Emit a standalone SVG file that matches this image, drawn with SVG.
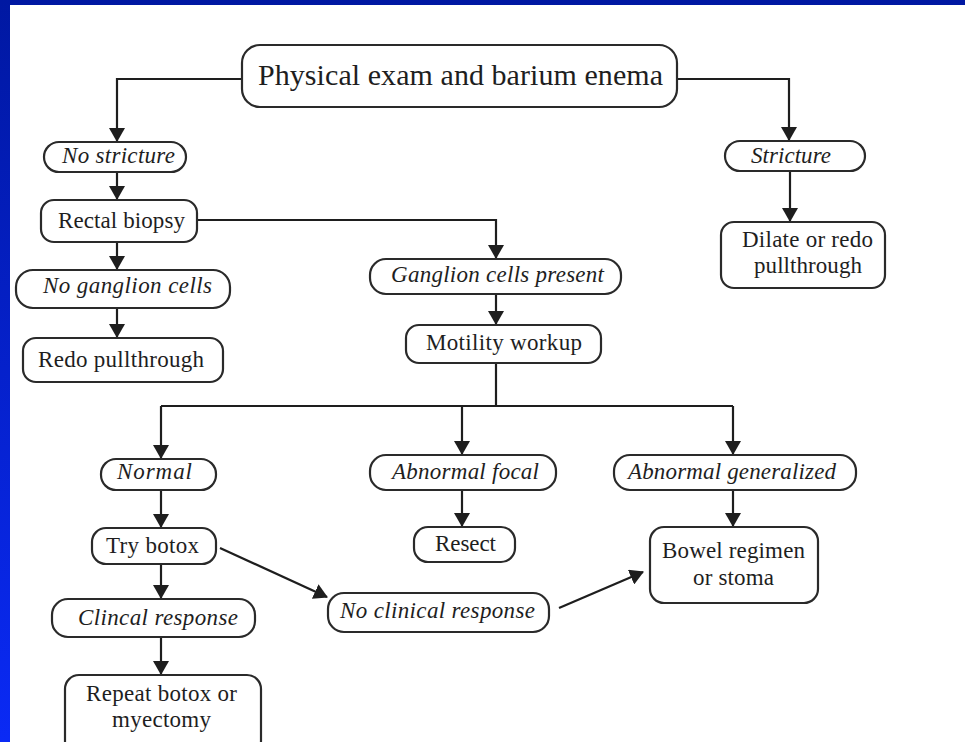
<svg xmlns="http://www.w3.org/2000/svg" width="965" height="742" viewBox="0 0 965 742">
<defs>
<linearGradient id="bg" x1="0" y1="0" x2="0" y2="1">
<stop offset="0" stop-color="#0018A2"/>
<stop offset="1" stop-color="#0A2AF5"/>
</linearGradient>
<marker id="ah" markerUnits="userSpaceOnUse" viewBox="0 0 14 16" refX="13" refY="8" markerWidth="14" markerHeight="16" orient="auto">
<path d="M0,0 L14,8 L0,16 z" fill="#1e1e1e"/>
</marker>
<style>
.box{fill:#fff;stroke:#2a2a2a;stroke-width:2.2}
.t{font-family:"Liberation Serif","Times New Roman",serif;font-size:23px;fill:#1e1e1e;text-anchor:middle}
.i{font-style:italic}
.big{font-size:30px}
.c{fill:none;stroke:#1e1e1e;stroke-width:2.2}
.a{marker-end:url(#ah)}
</style>
</defs>
<rect width="965" height="742" fill="url(#bg)"/>
<rect x="10" y="5" width="955" height="737" fill="#fff"/>

<g id="connectors">
<path class="c a" d="M242,79 H117 V141"/>
<path class="c a" d="M677,79 H789 V140"/>
<path class="c a" d="M117,172 V199"/>
<path class="c a" d="M790,171 V221"/>
<path class="c a" d="M117,242 V269"/>
<path class="c a" d="M117,308 V337"/>
<path class="c a" d="M197,220 H496 V258"/>
<path class="c a" d="M496,294 V324"/>
<path class="c" d="M496,363 V406 M161,406 H733"/>
<path class="c a" d="M161,406 V458"/>
<path class="c a" d="M462,406 V454"/>
<path class="c a" d="M733,406 V454"/>
<path class="c a" d="M161,490 V527"/>
<path class="c a" d="M462,490 V526"/>
<path class="c a" d="M733,490 V526"/>
<path class="c a" d="M161,564 V598"/>
<path class="c a" d="M161,637 V674"/>
<path class="c a" d="M220,548 L327,597"/>
<path class="c a" d="M559,608 L643,572"/>
</g>

<g id="physical"><rect class="box" x="242" y="45" width="435" height="62" rx="18"/><text class="t big" x="460.5" y="85" textLength="405">Physical exam and barium enema</text></g>
<g id="no-stricture"><rect class="box" x="44" y="142" width="142" height="30" rx="15"/><text class="t i" x="118.5" y="163" textLength="113">No stricture</text></g>
<g id="stricture"><rect class="box" x="725" y="141" width="140" height="30" rx="15"/><text class="t i" x="791" y="163" textLength="80">Stricture</text></g>
<g id="rectal-biopsy"><rect class="box" x="41" y="200" width="156" height="42" rx="13"/><text class="t" x="121.5" y="228" textLength="127">Rectal biopsy</text></g>
<g id="dilate"><rect class="box" x="721" y="222" width="164" height="66" rx="13"/><text class="t" x="807.5" y="247" textLength="131">Dilate or redo</text><text class="t" x="808" y="273" textLength="108">pullthrough</text></g>
<g id="no-ganglion"><rect class="box" x="16" y="270" width="214" height="38" rx="17"/><text class="t i" x="127.5" y="293" textLength="169">No ganglion cells</text></g>
<g id="ganglion-present"><rect class="box" x="370" y="259" width="251" height="35" rx="16"/><text class="t i" x="497.5" y="282" textLength="213">Ganglion cells present</text></g>
<g id="motility"><rect class="box" x="406" y="325" width="195" height="38" rx="13"/><text class="t" x="504" y="350" textLength="156">Motility workup</text></g>
<g id="redo"><rect class="box" x="23" y="338" width="200" height="44" rx="13"/><text class="t" x="121" y="367" textLength="166">Redo pullthrough</text></g>
<g id="normal"><rect class="box" x="101" y="459" width="115" height="31" rx="15"/><text class="t i" x="154.5" y="479" textLength="75">Normal</text></g>
<g id="abnormal-focal"><rect class="box" x="370" y="455" width="186" height="35" rx="16"/><text class="t i" x="465.5" y="479" textLength="147">Abnormal focal</text></g>
<g id="abnormal-generalized"><rect class="box" x="614" y="455" width="242" height="35" rx="16"/><text class="t i" x="732" y="479" textLength="208">Abnormal generalized</text></g>
<g id="try-botox"><rect class="box" x="92" y="528" width="124" height="36" rx="14"/><text class="t" x="152.5" y="553" textLength="93">Try botox</text></g>
<g id="resect"><rect class="box" x="414" y="527" width="101" height="35" rx="14"/><text class="t" x="465.5" y="551" textLength="61">Resect</text></g>
<g id="bowel"><rect class="box" x="650" y="527" width="168" height="76" rx="14"/><text class="t" x="733.5" y="558" textLength="143">Bowel regimen</text><text class="t" x="733.5" y="585" textLength="81">or stoma</text></g>
<g id="clinical-response"><rect class="box" x="52" y="599" width="203" height="38" rx="16"/><text class="t i" x="158" y="625" textLength="160">Clincal response</text></g>
<g id="no-clinical-response"><rect class="box" x="328" y="593" width="221" height="39" rx="16"/><text class="t i" x="437.5" y="618" textLength="195">No clinical response</text></g>
<g id="repeat"><rect class="box" x="65" y="675" width="196" height="80" rx="14"/><text class="t" x="161.5" y="701" textLength="151">Repeat botox or</text><text class="t" x="161.5" y="727" textLength="99">myectomy</text></g>
</svg>
